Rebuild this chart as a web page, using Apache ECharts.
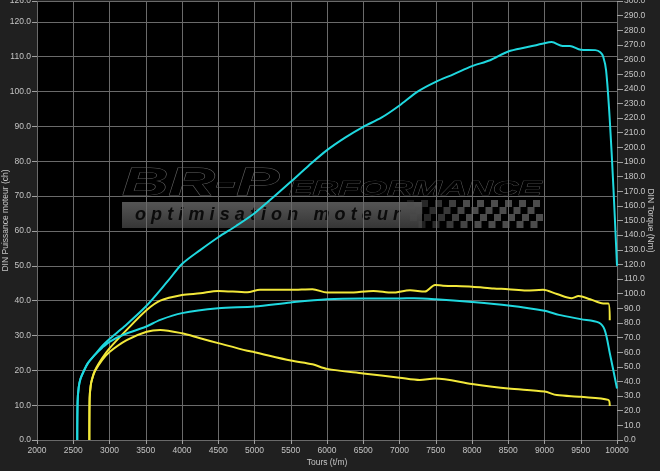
<!DOCTYPE html>
<html>
<head>
<meta charset="utf-8">
<script src="https://cdn.jsdelivr.net/npm/echarts@6/dist/echarts.min.js"></script>
<style>
html,body{margin:0;padding:0;background:#202020;}
#chart{width:660px;height:471px;}
</style>
</head>
<body>
<div id="chart"></div>
<script>
// ---- Data ----
// Cyan run: power (ch, left axis)
const cyanPowerRpm = [2555,2560,2575,2600,2650,2700,2800,2900,3000,3200,3500,3800,4000,4250,4500,4750,5000,5250,5500,5750,6000,6250,6500,6750,7000,7250,7500,7750,8000,8250,8500,8750,9000,9100,9250,9350,9500,9700,9770,9810,9850,9900,9950,10000];
const cyanPower    = [0,11,15,17.5,20,22,24.5,27,29,32.5,38.3,45.5,50.5,54.5,58.2,61.5,65.1,69.5,74.1,78.8,83.2,86.8,89.9,92.5,96,100,102.8,105,107.3,109,111.5,112.7,113.9,114.2,113.1,113.1,112,111.9,111.3,110,106,92,72.7,50];
// Cyan run: torque (Nm, right axis)
const cyanTorqueRpm = [2555,2560,2575,2600,2650,2700,2800,2900,3000,3200,3500,3700,4000,4500,5000,5500,6000,6500,7000,7200,7500,8000,8500,9000,9200,9500,9750,9830,9900,10000];
const cyanTorque    = [0,26,36,42,47.6,52.4,58.3,63.1,67.1,72.1,77.4,82.1,86.7,90.0,91.2,94.0,96.2,96.7,96.7,96.9,96.2,94.3,91.9,88.3,85.5,82.6,80.2,75.2,59.5,35.2];
// Yellow run: power (ch, left axis)
const yellowPowerRpm = [2722,2726,2740,2760,2800,2900,3000,3237,3513,3700,4000,4250,4500,4900,5076,5500,5800,6000,6300,6640,6900,7145,7350,7490,7600,8000,8300,8500,8750,8980,9170,9375,9470,9630,9810,9880,9900];
const yellowPower    = [0,12,15.5,17.5,20,23.5,26.3,31.6,37.3,40,41.6,42.1,42.8,42.4,43.1,43.1,43.3,42.3,42.3,42.8,42.3,43.0,42.6,44.5,44.3,44.0,43.5,43.3,42.9,43.1,41.9,40.7,41.3,40.4,39.2,39.2,34.4];
// Yellow run: torque (Nm, right axis)
const yellowTorqueRpm = [2722,2726,2740,2760,2800,2900,3000,3237,3513,3700,4000,4250,4500,4900,5000,5500,5800,6000,6500,7000,7280,7490,8000,8500,9000,9170,9500,9880,9900];
const yellowTorque    = [0,28.6,36.9,41.7,47.1,54.8,60.2,68.3,74.0,75.2,72.9,69.5,66.2,61.0,60.0,54.3,51.7,48.6,45.5,42.6,41.0,42.1,38.3,35.2,33.1,30.7,29.5,27.4,23.3];

const xMin = 2000, xMax = 10000, xStep = 500;
const leftMax = 126, leftStep = 10;
const rightMax = 300, rightStep = 10;
const xName = 'Tours (t/m)';
const leftName = 'DIN Puissance moteur (ch)';
const rightName = 'DIN Torque (Nm)';

function zip(xs, ys){ return xs.map((x,i)=>[x, ys[i]]); }

const CYAN = '#1fd8df';
const YELLOW = '#f2e83a';
const TXT = '#c4c4c4';
const GRIDC = '#6a6a6a';
const FONT = 'Liberation Sans, Arial, sans-serif';

// ---- Watermark logo (decorative) ----
const logo = [];
const logoFill = {type:'linear',x:0,y:0,x2:0,y2:1,colorStops:[{offset:0,color:'#5a5a5a'},{offset:0.5,color:'#3c3c3c'},{offset:1,color:'#262626'}]};
logo.push({type:'rect', z:1, shape:{x:122,y:202,width:300,height:26}, style:{fill:{type:'linear',x:0,y:0,x2:0,y2:1,colorStops:[{offset:0,color:'#555'},{offset:1,color:'#363636'}]}}});
// checkered flag
const sq = 7;
for (let c = 0; c < 19; c++) {
  for (let r = 0; r < 4; r++) {
    if ((c + r) % 2 === 0) {
      logo.push({type:'rect', z:1, shape:{x:407 + c*sq + r*1.5, y:200 + r*sq, width:sq, height:sq},
        style:{fill:'#4c4c4c', opacity: Math.min(1, 0.35 + c*0.08)}});
    }
  }
}
logo.push({type:'text', z:1, x:122, y:184, scaleX:1.65,
  style:{text:'BR-P', font:'italic bold 39px ' + FONT, fill:logoFill, stroke:'#5e5e5e', lineWidth:0.8, verticalAlign:'middle', align:'left'}});
logo.push({type:'text', z:1, x:289, y:189.5, scaleX:1.68,
  style:{text:'ERFORMANCE', font:'italic bold 21px ' + FONT, fill:logoFill, stroke:'#5e5e5e', lineWidth:0.6, verticalAlign:'middle', align:'left'}});
// tagline with even letter tracking
const tag = 'optimisation moteur';
const tagFont = 'italic bold 18px ' + FONT;
const mctx = document.createElement('canvas').getContext('2d');
mctx.font = tagFont;
const tagStart = 135, tagEnd = 400;
const natural = mctx.measureText(tag).width;
const tracking = (tagEnd - tagStart - natural) / (tag.length - 1);
let cx = tagStart;
for (let i = 0; i < tag.length; i++) {
  const w = mctx.measureText(tag[i]).width;
  if (tag[i] !== ' ') {
    logo.push({type:'text', z:1, x:cx, y:215,
      style:{text:tag[i], font:tagFont, fill:'#0b0b0b', verticalAlign:'middle', align:'left'}});
  }
  cx += w + tracking;
}

const chart = echarts.init(document.getElementById('chart'));
chart.setOption({
  animation:false,
  backgroundColor:'#202020',
  textStyle:{fontFamily:FONT},
  grid:{left:37, right:43, top:1, bottom:31, containLabel:false, outerBoundsMode:'none', show:true, backgroundColor:'#000', borderWidth:0, z:0},
  graphic:{elements:logo},
  xAxis:{
    type:'value', min:xMin, max:xMax, interval:xStep, z:3,
    name:xName, nameLocation:'middle', nameGap:18, nameMoveOverlap:false,
    nameTextStyle:{color:TXT, fontSize:8.5},
    axisLine:{show:false},
    axisTick:{show:true, length:4, lineStyle:{color:'#a0a0a0'}},
    axisLabel:{color:TXT, fontSize:8.5, margin:6, formatter:v=>String(v)},
    splitLine:{show:true, lineStyle:{color:GRIDC, width:1}}
  },
  yAxis:[{
    type:'value', min:0, max:leftMax, interval:leftStep, position:'left', z:3,
    name:leftName, nameLocation:'middle', nameGap:27, nameRotate:90, nameMoveOverlap:false,
    nameTextStyle:{color:TXT, fontSize:8.5},
    axisLine:{show:false},
    axisTick:{show:true, length:5, lineStyle:{color:'#a0a0a0'}},
    axisLabel:{color:TXT, fontSize:8.5, margin:6, formatter:v=>v.toFixed(1)},
    splitLine:{show:true, lineStyle:{color:GRIDC, width:1}}
  },{
    type:'value', min:0, max:rightMax, interval:rightStep, position:'right', z:3,
    name:rightName, nameLocation:'middle', nameGap:29, nameRotate:-90, nameMoveOverlap:false,
    nameTextStyle:{color:TXT, fontSize:8.5},
    axisLine:{show:false},
    axisTick:{show:true, length:6, lineStyle:{color:'#a0a0a0'}},
    axisLabel:{color:TXT, fontSize:8.5, margin:7, formatter:v=>v.toFixed(1)},
    splitLine:{show:false}
  }],
  series:[
    {name:'Yellow power', type:'line', yAxisIndex:0, data:zip(yellowPowerRpm, yellowPower), showSymbol:false, smooth:0.3, lineStyle:{color:YELLOW, width:2}, itemStyle:{color:YELLOW}, z:5},
    {name:'Yellow torque', type:'line', yAxisIndex:1, data:zip(yellowTorqueRpm, yellowTorque), showSymbol:false, smooth:0.3, lineStyle:{color:YELLOW, width:2}, itemStyle:{color:YELLOW}, z:5},
    {name:'Cyan power', type:'line', yAxisIndex:0, data:zip(cyanPowerRpm, cyanPower), showSymbol:false, smooth:0.3, lineStyle:{color:CYAN, width:2}, itemStyle:{color:CYAN}, z:6},
    {name:'Cyan torque', type:'line', yAxisIndex:1, data:zip(cyanTorqueRpm, cyanTorque), showSymbol:false, smooth:0.3, lineStyle:{color:CYAN, width:2}, itemStyle:{color:CYAN}, z:6}
  ]
});
</script>
</body>
</html>
